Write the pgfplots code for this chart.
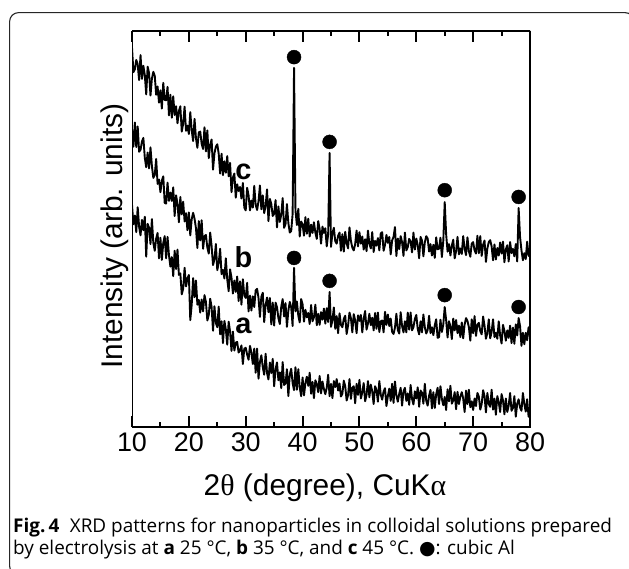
\documentclass[border=0pt]{standalone}
\usepackage{fontspec}
\setmainfont{Liberation Sans}
\newfontfamily\capfont{Open Sans}
\newfontfamily\greekfont{Liberation Serif}
\newfontfamily\symfont{DejaVu Sans}
\usepackage{pgfplots}
\usepackage{pgfplotstable}
\pgfplotsset{compat=1.18}

% XRD traces, 2theta step 0.25 deg; a = 25 C, b = 35 C, c = 45 C (offset)
\pgfplotstableread{
x a b c
10.00 56.1 75.0 95.8
10.25 51.2 70.8 89.6
10.50 53.4 76.9 90.3
10.75 49.2 70.7 92.7
11.00 55.5 75.9 91.6
11.25 50.6 69.5 87.6
11.50 48.4 70.0 93.9
11.75 52.3 72.1 87.9
12.00 49.7 73.0 91.2
12.25 53.1 68.0 88.9
12.50 43.0 65.6 84.0
12.75 51.3 69.3 91.0
13.00 50.3 65.3 89.4
13.25 46.2 70.6 83.7
13.50 52.5 65.9 88.0
13.75 46.5 62.9 89.7
14.00 44.5 63.6 88.7
14.25 47.6 67.7 83.9
14.50 49.0 61.4 86.0
14.75 42.6 62.5 81.9
15.00 47.8 59.3 85.0
15.25 42.2 62.2 80.4
15.50 46.5 63.3 86.9
15.75 48.2 56.6 82.6
16.00 42.6 56.4 82.5
16.25 48.0 61.7 85.9
16.50 43.4 57.1 78.7
16.75 40.5 59.2 83.9
17.00 42.9 57.1 78.1
17.25 38.1 60.5 83.5
17.50 44.5 53.3 78.8
17.75 39.9 58.5 81.0
18.00 44.8 56.4 76.7
18.25 38.4 51.7 79.8
18.50 38.8 58.1 81.0
18.75 33.5 53.7 74.6
19.00 34.9 56.9 76.6
19.25 40.2 51.9 80.9
19.50 35.5 54.0 74.8
19.75 37.5 49.7 76.1
20.00 38.4 54.2 74.0
20.25 27.0 48.4 79.5
20.50 30.9 52.5 74.9
20.75 37.6 54.1 72.2
21.00 32.8 52.6 77.8
21.25 37.0 50.2 72.9
21.50 30.9 45.2 70.5
21.75 32.1 52.0 74.4
22.00 28.9 47.1 74.6
22.25 32.2 52.2 71.5
22.50 29.2 45.0 70.2
22.75 33.3 48.2 75.7
23.00 31.6 48.5 69.6
23.25 26.9 45.3 74.9
23.50 28.3 43.8 67.9
23.75 32.4 49.1 71.3
24.00 30.3 45.7 72.6
24.25 24.3 40.9 65.0
24.50 30.5 42.3 69.1
24.75 26.3 46.2 70.8
25.00 25.2 39.6 71.4
25.25 30.4 41.4 69.0
25.50 23.4 45.0 64.0
25.75 26.7 38.6 69.0
26.00 21.2 39.7 63.6
26.25 26.8 37.5 67.1
26.50 24.7 42.6 64.2
26.75 20.8 37.3 68.4
27.00 26.6 34.3 63.3
27.25 24.1 39.8 66.7
27.50 19.2 37.7 59.3
27.75 24.1 33.7 63.0
28.00 19.3 37.0 64.0
28.25 21.3 34.1 57.9
28.50 21.5 38.0 61.3
28.75 18.8 31.8 59.6
29.00 19.4 36.8 60.6
29.25 20.6 30.9 57.7
29.50 15.9 37.3 61.6
29.75 19.8 33.2 55.4
30.00 20.0 32.6 54.7
30.25 18.3 36.4 60.4
30.50 17.0 29.2 58.5
30.75 20.5 33.2 54.7
31.00 18.8 29.4 57.2
31.25 15.9 33.0 55.4
31.50 19.8 30.3 60.9
31.75 13.7 34.5 56.1
32.00 19.8 34.9 54.8
32.25 12.2 32.6 57.0
32.50 16.4 27.8 61.0
32.75 18.1 32.9 55.0
33.00 15.1 33.9 58.5
33.25 13.2 26.5 54.0
33.50 18.5 30.8 55.8
33.75 13.6 32.7 60.0
34.00 12.0 29.0 52.0
34.25 16.3 32.6 57.6
34.50 13.6 25.9 56.3
34.75 17.2 31.4 53.3
35.00 10.3 25.6 53.8
35.25 14.6 31.4 57.3
35.50 16.3 30.3 50.4
35.75 11.8 27.5 55.7
36.00 13.8 26.0 51.8
36.25 9.8 30.4 53.6
36.50 16.4 32.3 57.8
36.75 10.6 27.9 50.3
37.00 11.0 31.3 51.2
37.25 14.6 25.3 56.3
37.50 7.8 29.4 51.5
37.75 13.3 31.6 49.1
38.00 14.7 30.2 49.5
38.25 11.1 25.5 53.8
38.50 9.3 40.2 90.7
38.75 15.1 29.2 54.7
39.00 9.4 31.7 51.0
39.25 14.6 28.1 55.1
39.50 10.0 26.4 48.1
39.75 7.8 32.3 51.9
40.00 12.5 31.0 51.2
40.25 8.0 26.6 48.3
40.50 11.1 29.6 53.0
40.75 12.7 27.7 48.8
41.00 10.4 28.8 52.6
41.25 13.7 26.0 48.1
41.50 8.4 30.8 51.1
41.75 11.4 26.7 49.0
42.00 7.3 27.7 51.7
42.25 11.8 30.9 49.1
42.50 10.9 25.7 47.5
42.75 8.8 28.6 52.0
43.00 12.9 25.8 50.0
43.25 8.5 29.0 46.3
43.50 11.5 27.1 50.6
43.75 9.6 29.9 49.0
44.00 8.3 26.1 50.2
44.25 9.9 30.0 45.6
44.50 13.2 26.5 48.7
44.75 7.8 34.1 69.2
45.00 10.9 25.3 45.5
45.25 7.3 26.9 48.9
45.50 11.6 30.2 50.3
45.75 10.1 24.8 46.9
46.00 12.1 28.0 46.3
46.25 9.2 23.7 48.3
46.50 11.0 28.7 49.1
46.75 7.7 25.8 44.5
47.00 8.4 25.2 48.7
47.25 11.7 27.3 44.3
47.50 10.3 28.1 49.3
47.75 6.7 23.5 46.4
48.00 8.0 25.6 45.1
48.25 12.1 28.9 50.4
48.50 7.1 27.5 47.0
48.75 9.9 23.9 45.3
49.00 10.3 28.5 44.6
49.25 6.0 26.9 46.2
49.50 10.9 23.7 49.6
49.75 8.1 28.2 45.6
50.00 11.9 26.8 49.2
50.25 7.2 28.3 46.3
50.50 8.7 23.9 48.1
50.75 11.1 27.4 44.8
51.00 6.5 29.3 47.4
51.25 8.1 24.6 44.4
51.50 11.6 26.1 49.6
51.75 7.5 28.6 46.2
52.00 10.7 25.7 45.1
52.25 9.0 27.6 49.2
52.50 5.8 24.4 44.2
52.75 10.3 28.8 47.0
53.00 9.4 24.8 45.8
53.25 6.4 28.9 47.7
53.50 11.6 24.0 44.6
53.75 8.2 26.7 48.9
54.00 6.9 26.9 49.2
54.25 9.0 23.9 44.5
54.50 9.8 29.1 46.0
54.75 5.3 25.8 48.5
55.00 7.8 28.4 46.5
55.25 9.7 25.5 48.0
55.50 6.6 27.4 43.6
55.75 10.9 24.0 47.1
56.00 6.1 23.5 48.0
56.25 11.5 25.1 50.5
56.50 8.0 28.6 43.2
56.75 6.4 24.5 47.6
57.00 8.4 23.6 44.9
57.25 9.9 29.0 48.2
57.50 5.4 25.5 46.7
57.75 9.0 23.9 43.2
58.00 9.9 26.7 49.1
58.25 6.6 23.9 44.6
58.50 8.5 28.9 45.4
58.75 5.6 24.6 47.5
59.00 10.6 28.9 46.9
59.25 7.1 24.4 44.1
59.50 5.7 25.2 49.1
59.75 9.0 27.3 44.8
60.00 7.2 28.3 47.6
60.25 10.0 24.8 46.0
60.50 5.1 23.4 42.6
60.75 9.2 26.7 48.0
61.00 8.7 23.9 47.1
61.25 5.9 28.4 43.1
61.50 10.9 25.2 46.6
61.75 6.6 23.6 48.2
62.00 5.4 24.5 47.6
62.25 7.9 28.1 44.3
62.50 9.4 23.7 46.2
62.75 4.7 25.2 43.3
63.00 8.8 23.2 46.0
63.25 4.8 25.7 42.7
63.50 8.3 27.2 47.9
63.75 9.9 22.5 44.9
64.00 5.8 22.7 45.0
64.25 10.3 27.1 47.8
64.50 7.1 24.0 42.9
64.75 5.5 25.9 47.0
65.00 7.6 30.3 56.8
65.25 4.3 27.0 48.7
65.50 9.5 22.6 44.3
65.75 6.5 26.7 46.2
66.00 10.4 25.5 43.3
66.25 5.9 22.2 45.8
66.50 6.7 27.4 47.3
66.75 8.8 24.4 42.6
67.00 4.5 27.0 44.4
67.25 8.9 23.7 48.0
67.50 5.8 25.6 43.6
67.75 7.7 22.7 45.1
68.00 8.8 26.4 43.7
68.25 7.2 22.4 48.2
68.50 3.8 25.9 45.0
68.75 9.2 27.5 43.4
69.00 5.8 26.8 47.9
69.25 9.4 25.2 44.4
69.50 5.0 21.8 43.0
69.75 6.5 27.2 46.3
70.00 4.3 23.7 46.7
70.25 7.2 28.0 44.6
70.50 5.3 23.0 43.8
70.75 8.6 25.8 48.3
71.00 7.7 26.3 43.9
71.25 4.4 24.2 48.2
71.50 5.8 23.4 43.2
71.75 9.3 27.9 46.0
72.00 7.8 25.6 47.1
72.25 3.7 22.3 41.7
72.50 8.6 23.7 45.1
72.75 5.8 27.2 46.7
73.00 5.1 22.4 47.2
73.25 9.4 24.0 45.6
73.50 4.4 27.2 42.1
73.75 7.2 22.7 46.1
74.00 3.1 23.8 42.3
74.25 7.8 22.3 45.2
74.50 6.3 26.7 43.3
74.75 3.8 23.1 46.6
75.00 8.3 21.1 43.8
75.25 6.7 25.8 46.8
75.50 3.2 24.3 41.6
75.75 7.2 21.8 44.9
76.00 3.8 24.4 45.9
76.25 5.4 22.5 41.8
76.50 8.6 25.6 46.7
76.75 4.1 21.2 43.9
77.00 4.8 25.1 45.0
77.25 7.8 21.0 43.1
77.50 2.6 25.9 46.2
77.75 5.9 23.1 41.8
78.00 7.0 27.5 55.3
78.25 4.9 25.5 48.0
78.50 4.1 20.5 44.6
78.75 8.6 23.8 42.1
79.00 5.8 20.9 43.9
79.25 3.9 23.8 42.4
79.50 7.0 21.9 46.8
79.75 2.6 25.2 43.2
80.00 5.0 23.1 44.1
}\xrd

\begin{document}
\begin{tikzpicture}[x=1bp,y=1bp]
\useasboundingbox (0,0) rectangle (629,-569);
\draw[line width=1.1bp, black!85, rounded corners=9bp] (9.6,-575) rectangle (634,-12.6);
\begin{axis}[
  at={(132bp,-427bp)}, anchor=south west,
  scale only axis, width=398bp, height=396bp,
  xmin=10, xmax=80, ymin=0, ymax=100,
  axis lines=box,
  xtick={10,20,...,80}, minor x tick num=1,
  ytick=\empty,
  tick align=inside, major tick length=11bp, minor tick length=5bp,
  every tick/.style={black, line width=2bp},
  /pgf/number format/assume math mode=true,
  xticklabel style={font=\fontsize{27}{30}\selectfont, yshift=-2bp},
  xlabel={2{\greekfont θ} (degree), CuK{\greekfont α}},
  xlabel style={font=\fontsize{30}{34}\selectfont,
    at={(axis description cs:0.485,-0.1717)}, anchor=base},
  ylabel={Intensity (arb. units)},
  ylabel style={font=\fontsize{30}{34}\selectfont,
    at={(axis description cs:-0.0227,0.482)}, anchor=base},
]
\addplot[black, line width=1.9bp, line join=round, mark=none] table[x=x, y=a] {\xrd};
\addplot[black, line width=1.9bp, line join=round, mark=none] table[x=x, y=b] {\xrd};
\addplot[black, line width=1.9bp, line join=round, mark=none] table[x=x, y=c] {\xrd};
% cubic Al reflections
\addplot[only marks, mark=*, mark size=7bp, black] coordinates {(38.5,93.4) (44.75,72.0) (65.0,59.8) (78.0,58.1)};
\addplot[only marks, mark=*, mark size=7bp, black] coordinates {(38.5,42.7) (44.75,36.9) (65.0,33.3) (78.0,30.3)};
\node[font=\bfseries\fontsize{29}{30}\selectfont] at (axis cs:29.6,25.5) {a};
\node[font=\bfseries\fontsize{29}{30}\selectfont] at (axis cs:29.6,42.9) {b};
\node[font=\bfseries\fontsize{29}{30}\selectfont] at (axis cs:29.6,64.5) {c};
% box drawn on top, 2bp as in the figure
\draw[line width=2bp] (rel axis cs:0,0) rectangle (rel axis cs:1,1);
\end{axis}
\node[anchor=base west, inner sep=0pt, font=\capfont\fontsize{19}{22}\selectfont] at (13,-532)
  {\textbf{Fig.\,4}\hspace{0.55em}XRD patterns for nanoparticles in colloidal solutions prepared};
\node[anchor=base west, inner sep=0pt, font=\capfont\fontsize{19}{22}\selectfont] at (13,-554)
  {by electrolysis at \textbf{a} 25 °C, \textbf{b} 35 °C, and \textbf{c} 45 °C. {\symfont ●}: cubic Al};
\end{tikzpicture}
\end{document}
